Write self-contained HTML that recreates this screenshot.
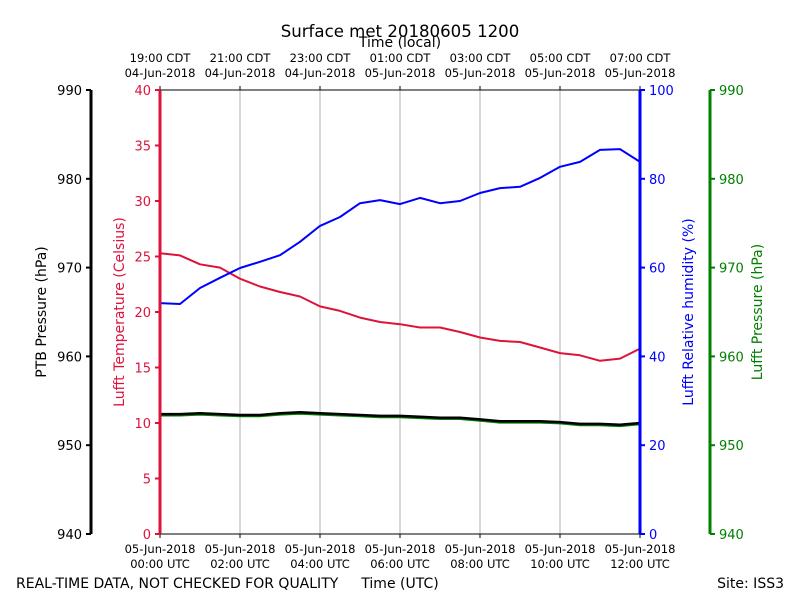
<!DOCTYPE html>
<html><head><meta charset="utf-8"><style>
body{margin:0;background:#fff}
svg{font-family:"DejaVu Sans","Liberation Sans",sans-serif}
</style></head><body>
<svg id="c" width="800" height="600" viewBox="0 0 800 600">
<rect width="800" height="600" fill="#fff"/>
<text x="400" y="37" font-size="16.6" text-anchor="middle">Surface met 20180605 1200</text>
<text x="400" y="47" font-size="14" text-anchor="middle">Time (local)</text>
<g id="grid"></g>
<g id="series"></g>
<g id="axes"></g>
<text x="16" y="588" font-size="14">REAL-TIME DATA, NOT CHECKED FOR QUALITY</text>
<text x="400" y="588" font-size="14" text-anchor="middle">Time (UTC)</text>
<text x="784" y="588" font-size="14" text-anchor="end">Site: ISS3</text>
<text transform="translate(46,312) rotate(-90)" font-size="14" text-anchor="middle">PTB Pressure (hPa)</text>
<text transform="translate(124,312) rotate(-90)" font-size="14" fill="#dc143c" text-anchor="middle">Lufft Temperature (Celsius)</text>
<text transform="translate(693,312) rotate(-90)" font-size="14" fill="#0000ff" text-anchor="middle">Lufft Relative humidity (%)</text>
<text transform="translate(762,312) rotate(-90)" font-size="14" fill="#008000" text-anchor="middle">Lufft Pressure (hPa)</text>
</svg>
<script>
const hours=[0,0.5,1,1.5,2,2.5,3,3.5,4,4.5,5,5.5,6,6.5,7,7.5,8,8.5,9,9.5,10,10.5,11,11.5,12];
const tempC=[25.3,25.1,24.3,24.0,23.0,22.3,21.8,21.4,20.5,20.1,19.5,19.1,18.9,18.6,18.6,18.2,17.7,17.4,17.3,16.8,16.3,16.1,15.6,15.8,16.7];
const rh=[52,51.8,55.4,57.7,59.9,61.3,62.8,65.8,69.4,71.4,74.5,75.2,74.3,75.7,74.5,75.0,76.8,77.9,78.2,80.2,82.7,83.8,86.5,86.7,83.8];
const ptb=[953.5,953.5,953.6,953.5,953.4,953.4,953.6,953.7,953.6,953.5,953.4,953.3,953.3,953.2,953.1,953.1,952.9,952.7,952.7,952.7,952.6,952.4,952.4,952.3,952.5];
const lufftP=[953.35,953.35,953.45,953.35,953.25,953.25,953.45,953.55,953.45,953.35,953.25,953.15,953.15,953.05,952.95,952.95,952.75,952.55,952.55,952.55,952.45,952.25,952.25,952.15,952.35];
const tempTicks=[0,5,10,15,20,25,30,35,40];
const rhTicks=[0,20,40,60,80,100];
const pTicks=[940,950,960,970,980,990];
const utcLabels=["00:00 UTC","02:00 UTC","04:00 UTC","06:00 UTC","08:00 UTC","10:00 UTC","12:00 UTC"];
const localLabels=["19:00 CDT|04-Jun-2018","21:00 CDT|04-Jun-2018","23:00 CDT|04-Jun-2018","01:00 CDT|05-Jun-2018","03:00 CDT|05-Jun-2018","05:00 CDT|05-Jun-2018","07:00 CDT|05-Jun-2018"];
const L=160,R=640,T=90,B=534;
const x=h=>L+(R-L)*h/12;
const yT=v=>B-(B-T)*v/40, yH=v=>B-(B-T)*v/100, yP=v=>B-(B-T)*(v-940)/50;
const NS="http://www.w3.org/2000/svg";
function mk(tag,attrs,parent,txt){const e=document.createElementNS(NS,tag);for(const k in attrs)e.setAttribute(k,attrs[k]);if(txt!==undefined)e.textContent=txt;parent.appendChild(e);return e;}
const G=document.getElementById('grid'),S=document.getElementById('series'),A=document.getElementById('axes');
utcLabels.forEach((lab,i)=>{const xx=x(i*2);
 if(i>0&&i<6){const g=mk('line',{x1:xx,x2:xx,y1:T,y2:B,stroke:'#b0b0b0','stroke-width':1},G);
 
 }
 mk('line',{x1:xx,x2:xx,y1:B,y2:B+4,stroke:'#000'},A);
 mk('line',{x1:xx,x2:xx,y1:T,y2:T-4,stroke:'#000'},A);
 const t=mk('text',{x:xx,y:553,'font-size':11.5,'text-anchor':'middle'},A,'05-Jun-2018');
 
 
 mk('text',{x:xx,y:568,'font-size':11.5,'text-anchor':'middle'},A,lab);
 const p=localLabels[i].split('|');
 const t2=mk('text',{x:xx,y:62,'font-size':11.5,'text-anchor':'middle'},A,p[0]);
 
 
 mk('text',{x:xx,y:77,'font-size':11.5,'text-anchor':'middle'},A,p[1]);
});
function line(vals,yf,col,w,name){const d=vals.map((v,i)=>(i?'L':'M')+x(hours[i]).toFixed(1)+','+yf(v).toFixed(1)).join('');
 const p=mk('path',{d:d,fill:'none',stroke:col,'stroke-width':w,'stroke-linejoin':'round'},S);
 
 }
line(lufftP,yP,'#008000',2,'lufft-pressure-line');
line(ptb,yP,'#000',2.5,'ptb-pressure-line');
line(tempC,yT,'#dc143c',2,'temperature-line');
line(rh,yH,'#0000ff',2,'humidity-line');
mk('line',{x1:L,x2:R,y1:T,y2:T,stroke:'#000'},A);
mk('line',{x1:L,x2:R,y1:B,y2:B,stroke:'#000'},A);
function axis(ax,ticks,yf,col,side,name){
 const a=mk('line',{x1:ax,x2:ax,y1:T,y2:B,stroke:col,'stroke-width':3},A);
 
 
 ticks.forEach(v=>{const yy=yf(v);
  mk('line',{x1:ax,x2:ax+(side<0?-5:5),y1:yy,y2:yy,stroke:col,'stroke-width':2},A);
  const t=mk('text',{x:ax+(side<0?-9:9),y:yy+5,'font-size':13,fill:col,'text-anchor':side<0?'end':'start'},A,v);
  
  });}
axis(91,pTicks,yP,'#000',-1,'ptb-axis');
axis(160,tempTicks,yT,'#dc143c',-1,'temp-axis');
axis(640,rhTicks,yH,'#0000ff',1,'rh-axis');
axis(710,pTicks,yP,'#008000',1,'lufft-pressure-axis');
</script>
</body></html>
